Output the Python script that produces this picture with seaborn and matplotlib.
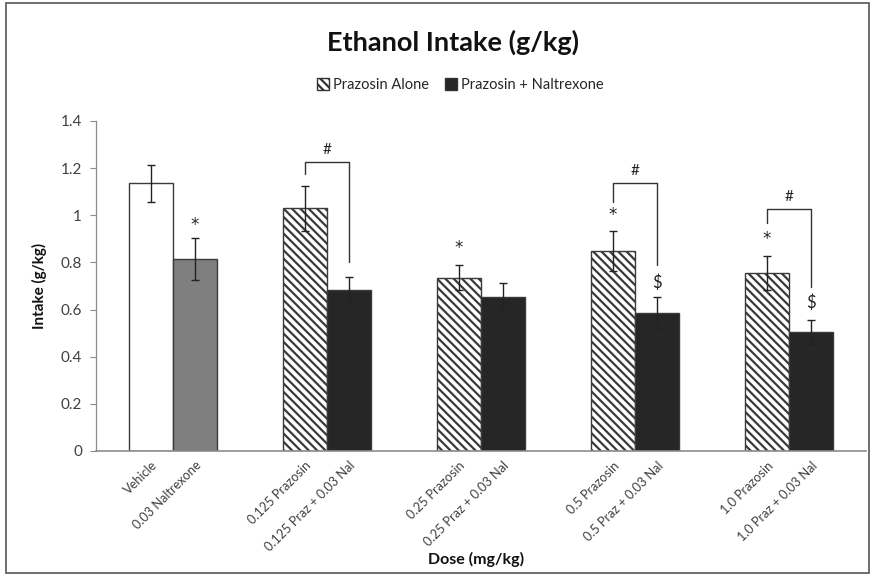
import matplotlib
matplotlib.use("Agg")
import matplotlib.pyplot as plt
import matplotlib.patches as mpatches
import matplotlib.transforms as mtransforms
import seaborn as sns
import pandas as pd
import numpy as np

groups = ["Vehicle / 0.03 Nal", "0.125", "0.25", "0.5", "1.0"]
series = ["Prazosin Alone", "Prazosin + Naltrexone"]
first_vals = [1.135, 1.03, 0.735, 0.85, 0.755]
first_err = [0.077, 0.095, 0.052, 0.085, 0.073]
second_vals = [0.815, 0.685, 0.655, 0.585, 0.505]
second_err = [0.09, 0.053, 0.058, 0.067, 0.05]
tick_labels = ["Vehicle", "0.03 Naltrexone",
               "0.125 Prazosin", "0.125 Praz + 0.03 Nal",
               "0.25 Prazosin", "0.25 Praz + 0.03 Nal",
               "0.5 Prazosin", "0.5 Praz + 0.03 Nal",
               "1.0 Prazosin", "1.0 Praz + 0.03 Nal"]
# significance markers
stars_first = [None, None, 0.86, 1.0, 0.90]
stars_second = [0.96, None, None, None, None]
dollars_second = [None, None, None, 0.715, 0.63]
# brackets: group index -> (left leg bottom, top, right leg bottom)
brackets = {1: (1.175, 1.226, 0.80), 3: (1.056, 1.137, 0.79), 4: (0.967, 1.027, 0.696)}

sns.set_theme(style="white")
plt.rcParams['font.family'] = ['Lato', 'DejaVu Sans']
plt.rcParams['hatch.linewidth'] = 1.6

df = pd.DataFrame({
    "group": groups * 2,
    "series": [series[0]] * 5 + [series[1]] * 5,
    "value": first_vals + second_vals,
})

fig = plt.figure(figsize=(8.74, 5.75), dpi=100)
ax = fig.add_axes([0.1098, 0.2157, 0.881, 0.5739])
sns.barplot(data=df, x="group", y="value", hue="series", order=groups,
            hue_order=series, width=0.572, errorbar=None, ax=ax,
            legend=False, saturation=1)

dark = "#262626"
edge = "#3a3a3a"
c0, c1 = ax.containers[0], ax.containers[1]
for i, p in enumerate(c0):
    p.set_facecolor("white")
    p.set_edgecolor(edge)
    p.set_linewidth(1.0)
    if i > 0:
        p.set_hatch("\\\\\\\\")
for i, p in enumerate(c1):
    p.set_facecolor("#7f7f7f" if i == 0 else dark)
    p.set_edgecolor(edge)
    p.set_linewidth(1.0)

centers0 = [p.get_x() + p.get_width() / 2 for p in c0]
centers1 = [p.get_x() + p.get_width() / 2 for p in c1]
ax.errorbar(centers0, first_vals, yerr=first_err, fmt="none", ecolor="#222222",
            elinewidth=1.0, capsize=2.8, capthick=1.0, zorder=5)
ax.errorbar(centers1, second_vals, yerr=second_err, fmt="none", ecolor="#222222",
            elinewidth=1.0, capsize=2.8, capthick=1.0, zorder=5)

sym = dict(ha="center", va="center", color="#222222", family=["DejaVu Sans"])
for i in range(5):
    if stars_first[i] is not None:
        ax.text(centers0[i], stars_first[i], "*", fontsize=12, **sym)
    if stars_second[i] is not None:
        ax.text(centers1[i], stars_second[i], "*", fontsize=12, **sym)
    if dollars_second[i] is not None:
        ax.text(centers1[i], dollars_second[i], "$", fontsize=12,
                ha="center", va="center", color="#222222")
for gi, (lb, top, rb) in brackets.items():
    ax.plot([centers0[gi], centers0[gi], centers1[gi], centers1[gi]], [lb, top, top, rb],
            color="#333333", lw=1.0)
    ax.text((centers0[gi] + centers1[gi]) / 2, top + 0.05, "#", ha="center", va="center",
            fontsize=11, color="#222222")

ax.set_xlim(-0.5, 4.5)
ax.set_ylim(0, 1.4)
ax.set_yticks(np.arange(0, 1.41, 0.2))
ax.set_yticklabels(["0", "0.2", "0.4", "0.6", "0.8", "1", "1.2", "1.4"], fontsize=11, color="#404040")
ticks = []
for a, b in zip(centers0, centers1):
    ticks += [a, b]
ax.set_xticks(ticks)
ax.set_xticklabels(tick_labels, rotation=45, ha="right", rotation_mode="anchor",
                   fontsize=9.2, color="#404040")
offset = mtransforms.ScaledTranslation(3 / 100, 0, fig.dpi_scale_trans)
for lab in ax.get_xticklabels():
    lab.set_transform(lab.get_transform() + offset)
ax.tick_params(axis="x", length=0, pad=6)
ax.tick_params(axis="y", length=4, width=0.8, color="#8c8c8c", direction="out", left=True, pad=6)
for s in ["top", "right"]:
    ax.spines[s].set_visible(False)
ax.spines["left"].set_color("#8c8c8c")
ax.spines["bottom"].set_color("#8c8c8c")
ax.spines["left"].set_linewidth(0.9)
ax.spines["bottom"].set_linewidth(1.2)
ax.set_ylabel("Intake (g/kg)", fontsize=11, fontweight="bold", color="#111111", labelpad=10)
ax.set_xlabel("Dose (mg/kg)", fontsize=11.5, fontweight="bold", color="#111111", labelpad=5)
ax.xaxis.set_label_coords(0.493, -0.0)
ax.xaxis.label.set_va("top")
ax.xaxis.set_label_coords(0.493, (451 - 552) / 330)

fig.text(0.518, 0.927, "Ethanol Intake (g/kg)", ha="center", va="center",
         fontsize=19.5, fontweight="bold", color="#111111")

handles = [mpatches.Patch(facecolor="white", edgecolor="#333333", hatch="\\\\\\\\", label=series[0]),
           mpatches.Patch(facecolor=dark, edgecolor="#333333", label=series[1])]
fig.legend(handles=handles, loc="center", bbox_to_anchor=(0.527, 0.852), ncol=2, frameon=False,
           fontsize=10.5, handlelength=0.8, handleheight=0.8, handletextpad=0.3, columnspacing=1.1)

fig.patches.append(mpatches.Rectangle((6 / 874, 2 / 575), 863 / 874, 570 / 575,
                                      transform=fig.transFigure, fill=False,
                                      edgecolor="#555555", lw=1.2))
fig.savefig("out.png", dpi=100)
